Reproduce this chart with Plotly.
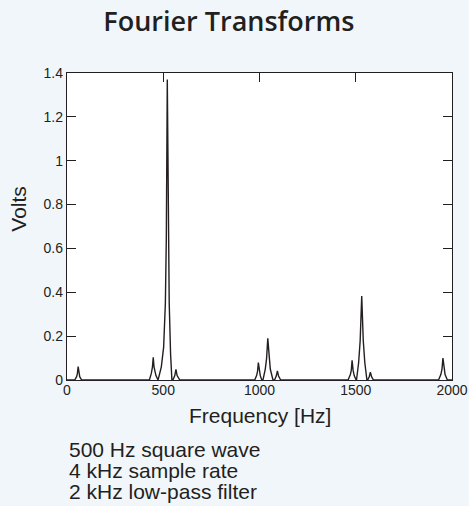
import plotly.graph_objects as go

# Spectrum trace (frequency in Hz, amplitude in volts)
freq_hz = [0, 40, 50, 54, 58, 62, 66, 76,
           428, 438, 444, 448, 452, 462, 473,
           490, 502, 511, 516, 521, 526, 531, 538, 545,
           550, 560, 566, 572, 586,
           975, 985, 990, 994, 999, 1004, 1012,
           1018, 1030, 1037, 1043, 1049, 1056, 1070,
           1078, 1087, 1093, 1099, 1110,
           1460, 1472, 1477, 1481, 1486, 1492, 1502,
           1504, 1515, 1523, 1531, 1539, 1547, 1558,
           1562, 1570, 1576, 1582, 1592,
           1930, 1942, 1948, 1953, 1958, 1964, 1976,
           2000]
volts = [0, 0, 0.015, 0.03, 0.061, 0.03, 0.015, 0,
         0, 0.03, 0.06, 0.104, 0.06, 0.02, 0,
         0.06, 0.15, 0.35, 0.65, 1.37, 0.65, 0.35, 0.12, 0,
         0, 0.02, 0.049, 0.02, 0,
         0, 0.02, 0.04, 0.079, 0.04, 0.02, 0,
         0, 0.05, 0.1, 0.19, 0.1, 0.05, 0,
         0, 0.018, 0.042, 0.018, 0,
         0, 0.025, 0.045, 0.09, 0.045, 0.02, 0,
         0, 0.08, 0.18, 0.383, 0.18, 0.08, 0,
         0, 0.015, 0.036, 0.015, 0,
         0, 0.025, 0.05, 0.10, 0.05, 0.025, 0,
         0]

x_tick_vals = [0, 500, 1000, 1500, 2000]
x_top_tick_vals = [500, 1000, 1500]
y_tick_vals = [0, 0.2, 0.4, 0.6, 0.8, 1, 1.2, 1.4]

title_text = "Fourier Transforms"
x_title = "Frequency [Hz]"
y_title = "Volts"
notes = ["500 Hz square wave", "4 kHz sample rate", "2 kHz low-pass filter"]

BG = "#F1F6FB"
INK = "#231F20"
SANS = "Liberation Sans, Arial, sans-serif"

fig = go.Figure()
fig.add_trace(go.Scatter(x=freq_hz, y=volts, mode="lines",
                         line=dict(color=INK, width=1.4),
                         showlegend=False, hoverinfo="skip"))
# invisible copy on the top axis so its inward ticks are drawn
fig.add_trace(go.Scatter(x=freq_hz, y=volts, mode="lines", xaxis="x2",
                         line=dict(color="rgba(0,0,0,0)", width=0),
                         showlegend=False, hoverinfo="skip"))

fig.update_layout(
    width=469, height=506,
    paper_bgcolor=BG, plot_bgcolor="white",
    margin=dict(l=67, r=17, t=73, b=126),
    font=dict(family=SANS, color=INK),
    title=dict(text=title_text, x=0.488, xanchor="center",
               y=0.9565, yanchor="middle",
               font=dict(family="Open Sans, sans-serif", size=27,
                         weight=600, color=INK)),
    xaxis=dict(range=[0, 2000], tickvals=x_tick_vals, ticks="",
               showline=True, linecolor=INK, linewidth=1.4, mirror=True,
               showgrid=False, zeroline=False, automargin=False,
               ticklabelstandoff=-3,
               tickfont=dict(size=14, color=INK)),
    xaxis2=dict(range=[0, 2000], overlaying="x", side="top",
                tickvals=x_top_tick_vals, ticks="inside", ticklen=9,
                tickwidth=1.2, tickcolor=INK, automargin=False,
                showticklabels=False, showline=False, showgrid=False,
                zeroline=False),
    yaxis=dict(range=[0, 1.4], tickvals=y_tick_vals, ticks="inside",
               ticklen=9, tickwidth=1.2, tickcolor=INK, automargin=False,
               showline=True, linecolor=INK, linewidth=1.4, mirror="ticks",
               showgrid=False, zeroline=False,
               tickfont=dict(size=14, color=INK)),
)

fig.add_annotation(text=x_title, xref="paper", yref="paper",
                   x=0.5, y=-0.116, xanchor="center", yanchor="middle",
                   showarrow=False, font=dict(size=21, color=INK))

fig.add_annotation(text=y_title, xref="paper", yref="paper",
                   x=-0.128, y=0.557, xanchor="center", yanchor="middle",
                   textangle=-90, showarrow=False,
                   font=dict(size=21, color=INK))

line_y = [-0.226, -0.295, -0.364]
for txt, yy in zip(notes, line_y):
    fig.add_annotation(text=txt, xref="paper", yref="paper",
                       x=0, y=yy, xanchor="left", yanchor="middle",
                       showarrow=False, font=dict(size=21, color=INK))

fig.write_html(
    "out.html",
    config={"displayModeBar": False},
    post_script="document.body.style.margin='0';"
                "document.body.style.overflow='hidden';"
                "document.documentElement.style.overflow='hidden';"
                "document.body.style.background='" + BG + "';",
)
